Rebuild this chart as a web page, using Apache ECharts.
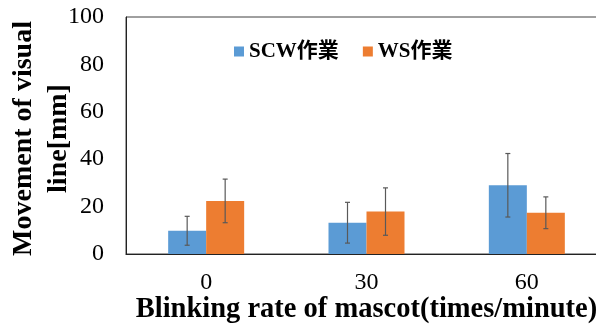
<!DOCTYPE html>
<html>
<head>
<meta charset="utf-8">
<script src="https://cdn.jsdelivr.net/npm/echarts@6/dist/echarts.min.js"></script>
<style>html,body{margin:0;padding:0;background:#fff}#c{width:596px;height:329px}</style>
</head>
<body>
<div id="c"></div>
<script>
var categories = ['0', '30', '60'];
var seriesNames = ['SCW作業', 'WS作業'];
var scwValues = [9.8, 13.2, 29.0];
var wsValues = [22.4, 17.9, 17.4];
var scwErrors = [6.1, 8.6, 13.4];
var wsErrors = [9.2, 10.0, 6.7];
var yTicks = { min: 0, max: 100, interval: 20 };

var FONT = "'Liberation Serif', 'Noto Sans CJK JP', serif";
var BAR_W = 38;

function errSeries(values, errors, offset) {
  var data = values.map(function (v, i) { return [i, v - errors[i], v + errors[i]]; });
  return {
    type: 'custom',
    data: data,
    z: 10,
    silent: true,
    renderItem: function (params, api) {
      var i = api.value(0);
      var lo = api.coord([i, api.value(1)]);
      var hi = api.coord([i, api.value(2)]);
      var x = lo[0] + offset;
      var cap = 2.5;
      var st = { stroke: '#595959', lineWidth: 1.2 };
      return {
        type: 'group',
        children: [
          { type: 'line', shape: { x1: x, y1: hi[1], x2: x, y2: lo[1] }, style: st },
          { type: 'line', shape: { x1: x - cap, y1: hi[1], x2: x + cap, y2: hi[1] }, style: st },
          { type: 'line', shape: { x1: x - cap, y1: lo[1], x2: x + cap, y2: lo[1] }, style: st }
        ]
      };
    }
  };
}

var chart = echarts.init(document.getElementById('c'), null, { renderer: 'canvas' });
chart.setOption({
  animation: false,
  backgroundColor: '#fff',
  grid: { left: 126, top: 17, width: 481, height: 237, show: true, borderColor: '#404040', borderWidth: 1,
          containLabel: false, outerBoundsMode: 'none' },
  legend: {
    left: 229, top: 36,
    itemWidth: 10, itemHeight: 10, itemGap: 24,
    icon: 'rect',
    data: seriesNames,
    textStyle: { fontFamily: FONT, fontWeight: 'bold', fontSize: 21, color: '#000' }
  },
  xAxis: {
    type: 'category',
    data: categories,
    axisLine: { lineStyle: { color: '#222', width: 1.2 } },
    axisTick: { show: false },
    axisLabel: { fontFamily: FONT, fontSize: 24, color: '#000', margin: 17 },
    name: 'Blinking rate of mascot(times/minute)',
    nameLocation: 'middle',
    nameGap: 41,
    nameMoveOverlap: false,
    nameTextStyle: { fontFamily: FONT, fontWeight: 'bold', fontSize: 28.5, color: '#000' }
  },
  yAxis: {
    type: 'value',
    min: yTicks.min, max: yTicks.max, interval: yTicks.interval,
    axisLine: { show: true, lineStyle: { color: '#222', width: 1 } },
    axisTick: { show: false },
    splitLine: { show: false },
    axisLabel: { fontFamily: FONT, fontSize: 24, color: '#000', margin: 22 },
    name: 'Movement of visual\nline[mm]',
    nameLocation: 'middle',
    nameRotate: 90,
    nameGap: 50,
    nameMoveOverlap: false,
    nameTextStyle: { fontFamily: FONT, fontWeight: 'bold', fontSize: 28, color: '#000', lineHeight: 35,
                     padding: [0, 6, 0, 0] }
  },
  series: [
    { name: seriesNames[0], type: 'bar', data: scwValues, barWidth: BAR_W, barGap: '0%',
      itemStyle: { color: '#5B9BD5' } },
    { name: seriesNames[1], type: 'bar', data: wsValues, barWidth: BAR_W, barGap: '0%',
      itemStyle: { color: '#ED7D31' } },
    errSeries(scwValues, scwErrors, -BAR_W / 2),
    errSeries(wsValues, wsErrors, BAR_W / 2)
  ]
});
</script>
</body>
</html>
